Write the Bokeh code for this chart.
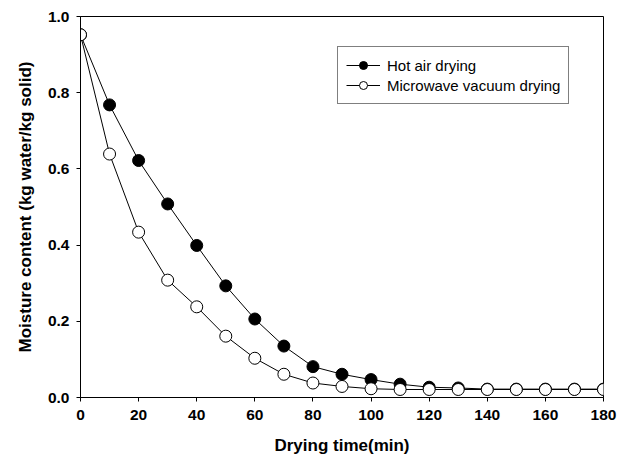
from bokeh.plotting import figure
from bokeh.models import Range1d, Legend, LegendItem, FixedTicker, CustomJSTickFormatter
from bokeh.embed import file_html
from bokeh.resources import INLINE

time_min = [0, 10, 20, 30, 40, 50, 60, 70, 80, 90, 100, 110, 120, 130, 140, 150, 160, 170, 180]
hot_air = [0.952, 0.768, 0.622, 0.508, 0.399, 0.293, 0.206, 0.135, 0.081, 0.061, 0.047, 0.035, 0.027, 0.025, 0.022, 0.022, 0.022, 0.022, 0.022]
microwave = [0.952, 0.639, 0.434, 0.308, 0.238, 0.161, 0.103, 0.061, 0.038, 0.029, 0.023, 0.021, 0.021, 0.021, 0.021, 0.021, 0.021, 0.021, 0.021]
x_ticks = [0, 20, 40, 60, 80, 100, 120, 140, 160, 180]
y_ticks = [0.0, 0.2, 0.4, 0.6, 0.8, 1.0]

FONT = "Liberation Sans"

p = figure(width=622, height=462, output_backend="svg", toolbar_location=None,
           x_range=Range1d(0, 180), y_range=Range1d(0, 1.0),
           min_border_left=80, min_border_right=19, min_border_top=16, min_border_bottom=65)
p.xgrid.visible = False
p.ygrid.visible = False
p.outline_line_color = "black"
p.outline_line_width = 1
p.background_fill_color = "white"
p.border_fill_color = "white"

for ax in (p.xaxis[0], p.yaxis[0]):
    ax.minor_tick_line_color = None
    ax.major_tick_out = 4
    ax.major_tick_in = 0
    ax.axis_line_color = "black"
    ax.major_tick_line_color = "black"
    ax.major_tick_line_width = 1
    ax.major_label_text_font = FONT
    ax.major_label_text_font_style = "bold"
    ax.major_label_text_font_size = "15.5px"
    ax.major_label_text_color = "black"
    ax.axis_label_text_font = FONT
    ax.axis_label_text_font_style = "bold"
    ax.axis_label_text_font_size = "17px"
    ax.axis_label_text_color = "black"

p.xaxis[0].ticker = FixedTicker(ticks=x_ticks)
p.yaxis[0].ticker = FixedTicker(ticks=y_ticks)
p.yaxis[0].formatter = CustomJSTickFormatter(code="return tick.toFixed(1);")
p.xaxis[0].axis_label = "Drying time(min)"
p.yaxis[0].axis_label = "Moisture content (kg water/kg solid)"
p.xaxis[0].major_label_standoff = 8
p.xaxis[0].axis_label_standoff = 13
p.yaxis[0].major_label_standoff = 7
p.yaxis[0].axis_label_standoff = 10

l1 = p.line(time_min, hot_air, line_color="black", line_width=1)
s1 = p.scatter(time_min, hot_air, size=12, fill_color="black", line_color="black", line_width=1)
l2 = p.line(time_min, microwave, line_color="black", line_width=1)
s2 = p.scatter(time_min, microwave, size=12, fill_color="white", line_color="black", line_width=1)

legend = Legend(items=[LegendItem(label="Hot air drying", renderers=[l1, s1]),
                       LegendItem(label="Microwave vacuum drying", renderers=[l2, s2])],
                location=(257, 293))
legend.label_text_font = FONT
legend.label_text_font_size = "15px"
legend.label_text_color = "black"
legend.border_line_color = "black"
legend.border_line_width = 1
legend.glyph_width = 34
legend.glyph_height = 20
legend.label_height = 20
legend.spacing = 0
legend.padding = 8
legend.margin = 0
legend.label_standoff = 7
p.add_layout(legend, "center")

open("out.html", "w").write(file_html(p, INLINE))
